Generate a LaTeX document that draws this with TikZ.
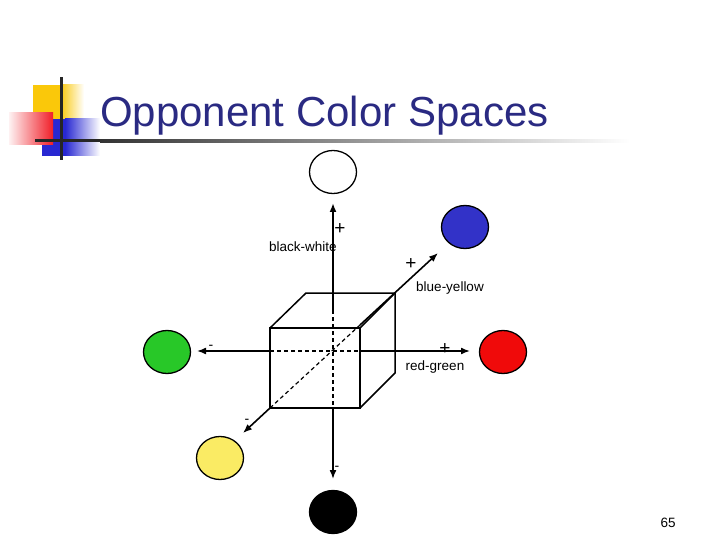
\documentclass[tikz,border=0pt]{standalone}
\usepackage{fontspec}
\setmainfont{Liberation Sans}
\usetikzlibrary{arrows.meta,shapes.geometric}
\definecolor{titleblue}{RGB}{42,42,130}
\definecolor{decoyellow}{RGB}{250,200,10}
\definecolor{decoblue}{RGB}{40,40,210}
\definecolor{decored}{RGB}{240,30,40}
\definecolor{ballblue}{RGB}{50,50,200}
\definecolor{ballgreen}{RGB}{40,200,40}
\definecolor{ballred}{RGB}{240,10,10}
\definecolor{ballyellow}{RGB}{250,235,100}
\begin{document}
\begin{tikzpicture}[x=1pt,y=-1pt,
  ball/.style={ellipse,draw=black,line width=1.3pt,minimum width=47pt,minimum height=43pt,inner sep=0pt},
  lbl/.style={font=\fontsize{13.5}{16}\selectfont,inner sep=1pt},
  sgn/.style={font=\fontsize{14}{16}\selectfont,inner sep=0pt},
  plus/.style={font=\fontsize{19}{20}\selectfont,inner sep=0pt},
  axis/.style={line width=1.6pt},
  tip/.style={-{Latex[length=9pt,width=7pt]}},
  edge/.style={line width=1.5pt},
  hidden/.style={line width=1.2pt,dash pattern=on 4pt off 3pt}]
\useasboundingbox (0,0) rectangle (720,540);
% decoration
\fill[decoyellow] (33,85) rectangle (60,120);
\shade[left color=decoyellow,right color=white] (60,85) rectangle (84,120);
\fill[decoblue] (42,119) rectangle (65,156);
\shade[left color=decoblue,right color=white] (65,119) rectangle (100,156);
\shade[left color=decored!6,right color=decored] (9,113) rectangle (53,145);
\fill[black!85] (35,139.5) rectangle (100,142.5);
\shade[left color=black!80,right color=white] (100,139.5) rectangle (630,142.5);
\fill[black!85] (59.5,77) rectangle (62.5,160);
% title
\node[anchor=base west,text=titleblue,font=\fontsize{42}{48}\selectfont,inner sep=0pt] (title) at (100,127) {Opponent Color Spaces};
% balls
\node[ball,fill=white] (white) at (333,172) {};
\node[ball,fill=ballblue] (blue) at (465,227) {};
\node[ball,fill=ballgreen] (green) at (167,352) {};
\node[ball,fill=ballred] (red) at (503,352) {};
\node[ball,fill=ballyellow] (yellow) at (220,458) {};
\node[ball,fill=black] (black) at (333,512) {};
% cube corners
\coordinate (ftl) at (270,328);
\coordinate (ftr) at (360,328);
\coordinate (fbl) at (270,408);
\coordinate (fbr) at (360,408);
\coordinate (btl) at (306,293);
\coordinate (btr) at (395,293);
\coordinate (bbr) at (395,373);
\draw[edge] (ftl) rectangle (fbr);
\draw[edge] (ftl) -- (btl) -- (btr) -- (bbr) -- (fbr);
\draw[edge] (ftr) -- (btr);
% axis points
\coordinate (vtop) at (333,203);
\coordinate (vs) at (333,310);
\coordinate (vb) at (333,408);
\coordinate (vbot) at (333,479);
\coordinate (hl) at (197,351);
\coordinate (hr) at (470,351);
\coordinate (hfl) at (270,351);
\coordinate (hfr) at (360,351);
\coordinate (dy) at (243,433);
\coordinate (dm) at (360,325);
\coordinate (db) at (438,253);
% vertical axis
\draw[line width=2.4pt,tip] (vs) -- (vtop);
\draw[hidden] (vs) -- (vb);
\draw[axis,tip] (vb) -- (vbot);
% horizontal axis
\draw[axis,tip] (hfl) -- (hl);
\draw[hidden] (hfl) -- (hfr);
\draw[axis,tip] (hfr) -- (hr);
% diagonal axis
\draw[axis,tip] (fbl) -- (dy);
\draw[hidden] (fbl) -- (dm);
\draw[axis,tip] (dm) -- (db);
% labels
\node[plus] (p1) at (340,229) {+};
\node[lbl] (lbw) at (303,247) {black-white};
\node[plus] (p2) at (411,264) {+};
\node[lbl] (lby) at (450,288) {blue-yellow};
\node[sgn] (m1) at (211,347) {-};
\node[plus] (p3) at (445,349) {+};
\node[lbl] (lrg) at (435,367) {red-green};
\node[sgn] (m2) at (247,421) {-};
\node[sgn] (m3) at (337,468) {-};
\node[lbl] (pg) at (668,523) {65};
\end{tikzpicture}
\end{document}
